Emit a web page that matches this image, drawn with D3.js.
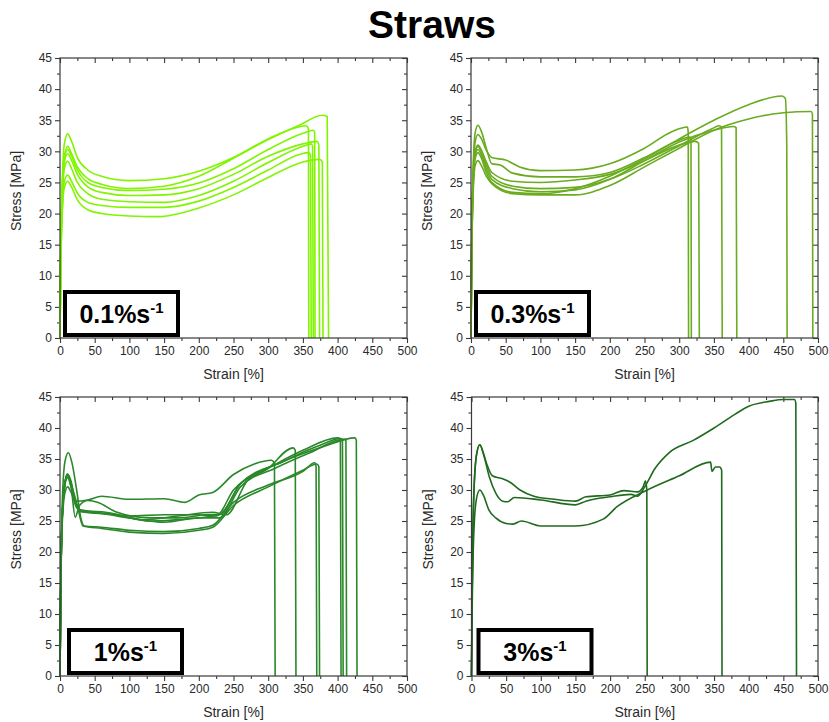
<!DOCTYPE html>
<html><head><meta charset="utf-8">
<script src="https://cdn.jsdelivr.net/npm/d3@7"></script>
<style>body{margin:0;background:#fff}svg{display:block}text{font-family:"Liberation Sans",Arial,sans-serif}</style>
</head><body><svg id="c" width="829" height="722"></svg>
<script>
const title = "Straws";
const xTicks = [0,50,100,150,200,250,300,350,400,450,500];
const yTicks = [0,5,10,15,20,25,30,35,40,45];
const rateLabels = ["0.1%s", "0.3%s", "1%s", "3%s"];
const colors = ["#80f500", "#6aab1f", "#2a882a", "#1f6a1f"];

// [strain %, stress MPa]
const rate01 = [
 [[0,0],[1,14],[3,24],[6,31],[11,32.8],[16,31.8],[25,29],[40,27],[60,26],[100,25.3],[150,25.6],[200,26.8],[250,29],[300,32],[340,33.8],[355,34.1],[358,33.6],[358.5,0]],
 [[0,0],[1,13],[3,23],[6,29],[11,30.8],[16,29.8],[25,27.5],[40,25.6],[60,24.7],[100,24],[150,24.4],[200,26],[250,28.9],[300,31.9],[345,34.2],[378,35.8],[385,35.6],[387,0]],
 [[0,0],[1,13],[3,23],[6,28.6],[11,30.3],[16,29.4],[25,27],[40,25],[60,24.2],[100,23.7],[150,23.9],[200,24.9],[250,27.2],[300,30.3],[350,32.9],[365,33.4],[367,33],[367.5,0]],
 [[0,0],[1,12],[3,22],[6,28],[11,29.6],[16,28.7],[25,26.3],[40,24.3],[60,23.4],[100,22.9],[150,23],[200,24],[250,26.3],[300,29.2],[350,31.2],[370,31.6],[373,31],[374,0]],
 [[0,0],[1,12],[3,21],[6,27],[11,28.4],[16,27.4],[25,25],[40,23.2],[60,22.3],[100,21.9],[150,21.8],[200,22.9],[250,25.2],[300,28.2],[350,30.8],[362,31.2],[364,30.8],[365,0]],
 [[0,0],[1,11],[3,20],[6,25],[11,26.2],[16,25.3],[25,23.3],[40,21.8],[60,21.3],[100,21],[150,21],[200,22],[250,24.2],[300,27],[345,29.5],[358,29.8],[361,29.3],[362,0]],
 [[0,0],[1,10],[3,19],[6,24],[11,25.2],[16,24.4],[25,22.2],[40,20.6],[60,20],[100,19.6],[140,19.5],[200,20.9],[250,23],[300,25.8],[350,28.3],[374,28.7],[378,28.3],[379,0]]
];
const rate03 = [
 [[0,0],[1,15],[3,26],[6,31.5],[10,32.7],[15,32],[22,30.2],[30,29],[50,28.6],[70,27.5],[100,26.9],[150,27],[200,28],[250,30.5],[290,33.2],[312,33.9],[313,33],[313.5,0]],
 [[0,0],[1,15],[3,27],[6,33],[10,34.2],[15,33.2],[22,30.5],[30,28],[42,27.8],[60,26.5],[100,25.9],[150,25.9],[200,26.6],[250,29],[300,31.8],[315,32.3],[317,32],[317.5,0]],
 [[0,0],[1,14],[3,25],[6,30],[10,31],[15,30.2],[22,28.3],[30,26.6],[60,25.2],[100,25],[150,25.4],[200,26.3],[250,28.5],[300,31],[323,31.6],[328,31.3],[329,0]],
 [[0,0],[1,14],[3,25],[6,29.8],[10,30.8],[15,29.9],[22,27.8],[30,26],[60,24.4],[100,24],[150,24.2],[200,25.5],[250,28],[300,30.9],[345,33.5],[358,34.1],[361,33.8],[362,0]],
 [[0,0],[1,13],[3,24],[6,29.3],[10,30.3],[15,29.4],[22,27.2],[30,25.5],[60,24],[100,23.5],[150,23.8],[200,25.5],[250,28.5],[300,31.5],[350,33.4],[378,34],[382,33.8],[383,0]],
 [[0,0],[1,13],[3,24],[6,28.8],[10,29.8],[15,28.9],[22,26.6],[30,25],[60,23.4],[100,23.2],[150,24],[200,26],[250,28.8],[300,32],[350,35],[400,37.5],[448,38.9],[453,38.5],[455,31],[455.5,0]],
 [[0,0],[1,12],[3,23],[6,27.7],[10,28.5],[15,27.7],[22,26],[30,24.8],[60,23.2],[100,23],[150,23],[200,24.5],[250,27.5],[300,30.5],[350,33.4],[400,35.2],[450,36.2],[490,36.4],[492,36],[492.5,0]]
];
const rate1 = [
 [[0,0],[1,14],[3,27],[7,34.5],[12,36],[17,34.5],[24,30],[30,25.5],[35,24.2],[60,24],[100,23.5],[150,23.3],[200,23.8],[220,24.3],[250,28],[300,30.8],[350,33],[367,34.4],[369,33.8],[370,0]],
 [[0,0],[1,13],[3,25],[7,31],[11,32.5],[16,31.4],[22,28.2],[40,28.4],[60,29],[100,28.5],[150,28.6],[180,28],[200,29.2],[220,29.6],[250,32.5],[280,34.2],[305,34.8],[309,34.3],[310,0]],
 [[0,0],[1,13],[3,25],[7,31],[11,32.5],[16,31],[22,28],[30,26.6],[60,26.5],[100,25.8],[150,26],[200,26],[225,25.8],[250,30],[300,33.5],[336,36.8],[339,36.4],[340,0]],
 [[0,0],[1,13],[3,25],[7,31.2],[11,32.6],[16,30.5],[22,25.6],[28,27.5],[40,28.3],[55,28],[80,26.5],[130,25.5],[170,25.5],[210,26],[230,26.1],[260,31],[300,33.5],[350,36.4],[400,38.4],[404,38.2],[405,0]],
 [[0,0],[1,12],[3,24],[7,29.5],[11,30.5],[16,29.6],[25,27],[40,26.6],[80,26],[120,25.2],[170,25.8],[220,26.4],[240,26],[270,31.5],[320,34.5],[370,37],[405,38.3],[407,38],[408,0]],
 [[0,0],[1,13],[3,25],[7,31],[11,32.3],[16,30.8],[24,27.5],[30,26.6],[60,26.2],[100,25.5],[150,24.8],[200,25.5],[230,25.5],[260,30.5],[310,33.5],[360,36],[410,38.2],[412,38],[413,0]],
 [[0,0],[1,13],[3,25],[7,31],[11,32.5],[16,31],[25,27.5],[33,24.2],[60,23.8],[100,23.2],[150,23],[200,23.5],[220,24],[250,27.5],[300,30.5],[350,33.2],[370,34.2],[373,33.8],[374,0]],
 [[0,0],[1,13],[3,25],[7,30.8],[11,32],[16,30.5],[24,27.5],[30,26.5],[80,26],[130,25],[180,25.3],[230,26],[260,31],[320,34.5],[380,37],[425,38.4],[427,38],[428,0]]
];
const rate3 = [
 [[0,0],[1,14],[3,28],[7,35.5],[12,37.3],[17,36],[22,34.2],[30,32.3],[45,31.8],[55,31.3],[70,30],[90,29],[120,28.5],[150,28.2],[165,28.9],[200,29.2],[220,29.9],[240,29.7],[248,30.6],[251,31.5],[253,30],[253.5,0]],
 [[0,0],[1,14],[3,28],[7,35.5],[12,37.3],[18,35.5],[26,32],[35,29.5],[45,28.2],[52,28.1],[62,28.8],[100,28.4],[150,27.6],[165,28.2],[200,28.9],[230,29.3],[240,29],[250,30.5],[265,33.5],[285,36],[320,38],[350,40],[380,42.2],[400,43.5],[430,44.3],[450,44.6],[466,44.6],[468,44],[469,0]],
 [[0,0],[1,11],[3,22],[7,28.5],[12,30],[17,29.2],[25,26.8],[35,25.5],[50,24.6],[60,24.5],[72,25],[100,24.2],[150,24.2],[190,25.3],[210,27.3],[250,29.8],[300,32.3],[345,34.5],[347,33],[352,33.7],[358,33.7],[361,33.2],[361.5,0]]
];
const panelData = [rate01, rate03, rate1, rate3];

const svg = d3.select("#c");
const frames = [
  {x0:60, x1:407, y0:58, y1:338},
  {x0:471, x1:818, y0:58, y1:338},
  {x0:60, x1:407, y0:397, y1:676},
  {x0:471.5, x1:818, y0:397, y1:676}
];

svg.append("text").attr("x",432).attr("y",38).attr("text-anchor","middle")
  .attr("font-size",39).attr("font-weight","bold").attr("fill","#000").text(title);

const axColor = "#3a3a3a";
frames.forEach((f, i) => {
  const x = d3.scaleLinear().domain([0,500]).range([f.x0, f.x1]);
  const y = d3.scaleLinear().domain([0,45]).range([f.y1, f.y0]);
  const g = svg.append("g");
  const minorX = d3.range(25, 500, 50);
  const minorY = d3.range(2.5, 45, 5);

  const styleAxis = sel => {
    sel.select(".domain").remove();
    sel.selectAll("line").attr("stroke", axColor).attr("stroke-width", 1.1);
    sel.selectAll("text").attr("fill","#2a2a2a").attr("font-size",12).attr("font-family","Liberation Sans, Arial, sans-serif");
  };
  g.append("g").attr("transform",`translate(0,${f.y1})`)
    .call(d3.axisBottom(x).tickValues(xTicks).tickSize(5).tickPadding(3)).call(styleAxis);
  g.append("g").attr("transform",`translate(0,${f.y1})`)
    .call(d3.axisBottom(x).tickValues(minorX).tickSize(3).tickFormat("")).call(styleAxis);
  g.append("g").attr("transform",`translate(${f.x0},0)`)
    .call(d3.axisLeft(y).tickValues(yTicks).tickSize(5).tickPadding(3)).call(styleAxis);
  g.append("g").attr("transform",`translate(${f.x0},0)`)
    .call(d3.axisLeft(y).tickValues(minorY).tickSize(3).tickFormat("")).call(styleAxis);
  g.append("g").attr("transform",`translate(0,${f.y0})`)
    .call(d3.axisTop(x).tickValues(xTicks).tickSize(-5).tickFormat("")).call(styleAxis);
  g.append("g").attr("transform",`translate(0,${f.y0})`)
    .call(d3.axisTop(x).tickValues(minorX).tickSize(-3).tickFormat("")).call(styleAxis);
  g.append("g").attr("transform",`translate(${f.x1},0)`)
    .call(d3.axisRight(y).tickValues(yTicks).tickSize(-5).tickFormat("")).call(styleAxis);
  g.append("g").attr("transform",`translate(${f.x1},0)`)
    .call(d3.axisRight(y).tickValues(minorY).tickSize(-3).tickFormat("")).call(styleAxis);

  const line = d3.line().x(d => x(d[0])).y(d => y(d[1])).curve(d3.curveMonotoneX);
  g.append("g").selectAll("path").data(panelData[i]).join("path")
    .attr("d", line).attr("fill","none").attr("stroke", colors[i])
    .attr("stroke-width", 1.6).attr("stroke-linejoin","round");

  g.append("rect").attr("x",f.x0).attr("y",f.y0).attr("width",f.x1-f.x0).attr("height",f.y1-f.y0)
    .attr("fill","none").attr("stroke",axColor).attr("stroke-width",1.2);

  g.append("text").attr("x",(f.x0+f.x1)/2).attr("y",f.y1+41).attr("text-anchor","middle")
    .attr("font-size",14).attr("fill","#2a2a2a").text("Strain [%]");
  const cy = (f.y0+f.y1)/2 - 7;
  g.append("text").attr("transform",`translate(${f.x0-39},${cy}) rotate(-90)`)
    .attr("text-anchor","middle").attr("font-size",14).attr("fill","#2a2a2a").text("Stress [MPa]");

  const bx = f.x0 + (i<2 ? 5 : (i==2 ? 9 : 7)), by = f.y1 - 46;
  g.append("rect").attr("x",bx).attr("y",by).attr("width",113).attr("height",43)
    .attr("fill","#fff").attr("stroke","#000").attr("stroke-width",4);
  const t = g.append("text").attr("x",bx+56.5).attr("y",by+31).attr("text-anchor","middle")
    .attr("font-size",25).attr("font-weight","bold").attr("fill","#000");
  t.append("tspan").text(rateLabels[i]);
  t.append("tspan").attr("dy",-10).attr("font-size",15).text("-1");
});
</script></body></html>
